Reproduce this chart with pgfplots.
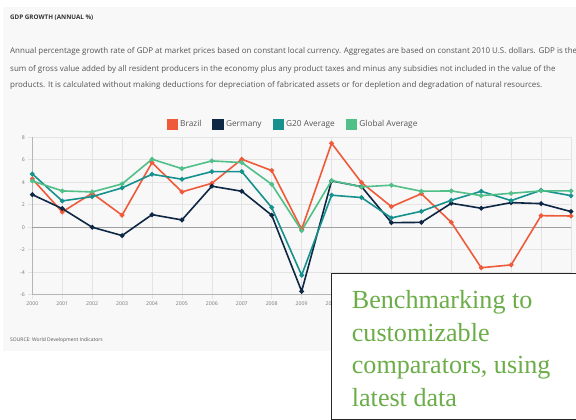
\documentclass[border=0pt]{standalone}
\usepackage{pgfplots}
\pgfplotsset{compat=1.18}
\usepackage{fontspec}
\setmainfont{Open Sans}
\newfontfamily\seriffont{Liberation Serif}
\definecolor{cBrazil}{HTML}{EF5A3B}
\definecolor{cGermany}{HTML}{0D2745}
\definecolor{cGtwenty}{HTML}{16918D}
\definecolor{cGlobal}{HTML}{50BF88}
\definecolor{panel}{HTML}{F8F8F8}
\definecolor{txt}{HTML}{555555}
\definecolor{gridc}{HTML}{E4E4E4}
\definecolor{boxgreen}{HTML}{6BAD48}
\begin{document}
\begin{tikzpicture}
\useasboundingbox (0bp,0bp) rectangle (576bp,420bp);
\clip (0bp,0bp) rectangle (576bp,420bp);
\begin{scope}[x=1bp,y=1bp]
\fill[white] (0,0) rectangle (576,420);
\fill[panel] (3,420-351) rectangle (580,420-7);
\node[anchor=west,font=\bfseries\fontsize{6.3}{7}\selectfont,text=black!80,inner sep=0] at (10,420-17.3) {GDP GROWTH (ANNUAL \%)};
\begin{scope}[every node/.style={anchor=west,font=\fontsize{8}{9}\selectfont,text=txt,inner sep=0}]
\node at (10,420-51.7) {Annual percentage growth rate of GDP at market prices based on constant local currency. Aggregates are based on constant 2010 U.S. dollars. GDP is the};
\node at (10,420-69) {sum of gross value added by all resident producers in the economy plus any product taxes and minus any subsidies not included in the value of the};
\node at (10,420-85.7) {products. It is calculated without making deductions for depreciation of fabricated assets or for depletion and degradation of natural resources.};
\end{scope}
\node[anchor=west,font=\fontsize{5}{6}\selectfont,text=txt,inner sep=0] at (10,420-340) {SOURCE: World Development Indicators};
\end{scope}
\begin{axis}[
  at={(32.3bp,125.3bp)}, anchor=south west,
  scale only axis, width=538.7bp, height=157.4bp,
  xmin=2000, xmax=2018, ymin=-6, ymax=8,
  xtick={2000,...,2018}, ytick={-6,-4,...,8},
  xticklabels={2000,2001,2002,2003,2004,2005,2006,2007,2008,2009,2010},
  /pgf/number format/assume math mode=true,
  tick label style={font=\fontsize{5.2}{6}\selectfont, text=txt!80},
  axis lines=left, axis line style={draw=gridc!80!black, -, line width=0.6bp},
  grid=major, grid style={draw=gridc, line width=0.6bp},
  tick align=outside, major tick length=4bp, tick style={draw=gridc, line width=0.6bp},
  xtick pos=bottom, ytick pos=left,
  clip=false,
  legend style={draw=none, fill=none, font=\fontsize{8.3}{9}\selectfont, text=txt,
    at={(0.484,1.081)}, anchor=center, legend columns=-1,
    /tikz/every even column/.append style={column sep=9bp}},
  legend image code/.code={\fill[#1] (0bp,-5bp) rectangle (10bp,5bp);},
  every axis plot/.append style={line width=1.6bp, mark=*, mark size=1.5bp},
]
\draw[gridc!70!black, line width=0.8bp] (axis cs:2000,0) -- (axis cs:2018,0);
\addplot[color=cBrazil, mark options={fill=cBrazil}] coordinates {
(2000,4.3)(2001,1.36)(2002,3.02)(2003,1.07)(2004,5.75)(2005,3.14)(2006,3.91)(2007,6.05)(2008,5.04)(2009,-0.18)
(2010,7.47)(2011,3.97)(2012,1.83)(2013,2.98)(2014,0.44)(2015,-3.6)(2016,-3.35)(2017,1.03)(2018,1.0)};
\addlegendentry{Brazil}
\addplot[color=cGermany, mark options={fill=cGermany}] coordinates {
(2000,2.9)(2001,1.66)(2002,0.0)(2003,-0.74)(2004,1.12)(2005,0.65)(2006,3.65)(2007,3.2)(2008,1.07)(2009,-5.7)
(2010,4.12)(2011,3.61)(2012,0.41)(2013,0.43)(2014,2.13)(2015,1.69)(2016,2.19)(2017,2.1)(2018,1.39)};
\addlegendentry{Germany}
\addplot[color=cGtwenty, mark options={fill=cGtwenty}] coordinates {
(2000,4.74)(2001,2.34)(2002,2.72)(2003,3.5)(2004,4.71)(2005,4.27)(2006,4.95)(2007,4.95)(2008,1.75)(2009,-4.27)
(2010,2.85)(2011,2.64)(2012,0.83)(2013,1.42)(2014,2.4)(2015,3.2)(2016,2.37)(2017,3.29)(2018,2.81)};
\addlegendentry{G20 Average}
\addplot[color=cGlobal, mark options={fill=cGlobal}] coordinates {
(2000,4.12)(2001,3.23)(2002,3.14)(2003,3.85)(2004,6.05)(2005,5.21)(2006,5.9)(2007,5.75)(2008,3.82)(2009,-0.3)
(2010,4.15)(2011,3.59)(2012,3.74)(2013,3.2)(2014,3.23)(2015,2.81)(2016,3.02)(2017,3.23)(2018,3.23)};
\addlegendentry{Global Average}
\end{axis}
\begin{scope}[x=1bp,y=1bp]
\draw[fill=white, draw=black!85, line width=1.3bp] (331.7,0.8) rectangle (590,420-273.3);
\begin{scope}[every node/.style={anchor=base west,font=\seriffont\fontsize{26.2}{30}\selectfont,text=boxgreen,inner sep=0}]
\node at (351.7,420-308) {Benchmarking to};
\node at (351.7,420-341.5) {customizable};
\node at (351.7,420-373) {comparators, using};
\node at (351.7,420-406.5) {latest data};
\end{scope}
\end{scope}
\end{tikzpicture}
\end{document}
